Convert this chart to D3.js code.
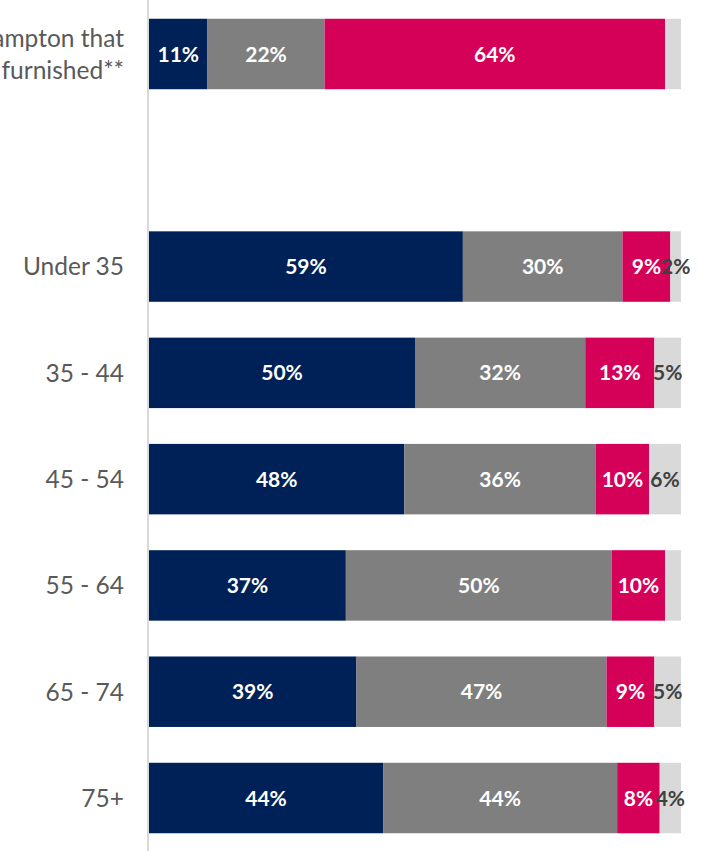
<!DOCTYPE html>
<html>
<head>
<meta charset="utf-8">
<script src="https://cdn.jsdelivr.net/npm/d3@7"></script>
<style>
  html, body { margin: 0; padding: 0; background: #fff; }
  svg { display: block; }
</style>
</head>
<body>
<svg id="chart" width="702" height="851"></svg>
<script>
// Row categories (the second row is an intentional blank spacer)
const categories = [
  "Private renters in Southampton that|live in homes that are furnished**",
  "",
  "Under 35",
  "35 - 44",
  "45 - 54",
  "55 - 64",
  "65 - 74",
  "75+"
];
const seriesNames = ["Series A", "Series B", "Series C", "Series D"];
// Shares per row, in percent
const seriesA = [11, null, 59, 50, 48, 37, 39, 44];
const seriesB = [22, null, 30, 32, 36, 50, 47, 44];
const seriesC = [64, null, 9, 13, 10, 10, 9, 8];
const seriesD = [3, null, 2, 5, 6, 3, 5, 4];
// Which values carry a printed label
const showA = [true, false, true, true, true, true, true, true];
const showB = [true, false, true, true, true, true, true, true];
const showC = [true, false, true, true, true, true, true, true];
const showD = [false, false, true, true, true, false, true, true];

const colors = ["#002157", "#7f7f7f", "#d50057", "#d9d9d9"];
const labelColors = ["#ffffff", "#ffffff", "#ffffff", "#404040"];

const svg = d3.select("#chart");
const font = "Lato, 'Open Sans', sans-serif";

const x = d3.scaleLinear().domain([0, 100]).range([149, 681]);
const y = d3.scaleBand().domain(categories.map((c, i) => i)).range([1, 851])
  .paddingInner(0.337).paddingOuter(0.167);

const rows = categories.map((c, i) => ({
  i,
  vals: [seriesA[i], seriesB[i], seriesC[i], seriesD[i]],
  show: [showA[i], showB[i], showC[i], showD[i]]
})).filter(r => r.vals[0] !== null);

const segs = [];
rows.forEach(r => {
  let acc = 0;
  r.vals.forEach((v, k) => {
    segs.push({ row: r.i, k, x0: acc, x1: acc + v, v, show: r.show[k] });
    acc += v;
  });
});

svg.append("g").selectAll("rect").data(segs).join("rect")
  .attr("x", d => x(d.x0))
  .attr("width", d => x(d.x1) - x(d.x0))
  .attr("y", d => y(d.row))
  .attr("height", y.bandwidth())
  .attr("fill", d => colors[d.k]);

svg.append("g").selectAll("text").data(segs.filter(d => d.show)).join("text")
  .attr("x", d => (x(d.x0) + x(d.x1)) / 2)
  .attr("y", d => y(d.row) + y.bandwidth() / 2)
  .attr("dy", "0.36em")
  .attr("text-anchor", "middle")
  .attr("font-family", font)
  .attr("font-weight", "bold")
  .attr("font-size", 21)
  .attr("fill", d => labelColors[d.k])
  .text(d => d.v + "%");

// Category axis
const axis = d3.axisLeft(y).tickSize(0).tickPadding(24).tickFormat(() => "");
const ag = svg.append("g").attr("transform", "translate(148,0)").call(axis);
ag.select(".domain").attr("stroke", "#d9d9d9").attr("stroke-width", 2)
  .attr("d", "M0,0V851");

ag.selectAll(".tick").each(function(d) {
  const lines = categories[d].split("|");
  const t = d3.select(this).append("text")
    .attr("x", -24)
    .attr("text-anchor", "end")
    .attr("font-family", font)
    .attr("font-size", 24.5)
    .attr("fill", "#595959");
  const lh = 32;
  lines.forEach((ln, j) => {
    t.append("tspan")
      .attr("x", -24)
      .attr("y", (j - (lines.length - 1) / 2) * lh)
      .attr("dy", "0.36em")
      .text(ln);
  });
});
</script>
</body>
</html>
